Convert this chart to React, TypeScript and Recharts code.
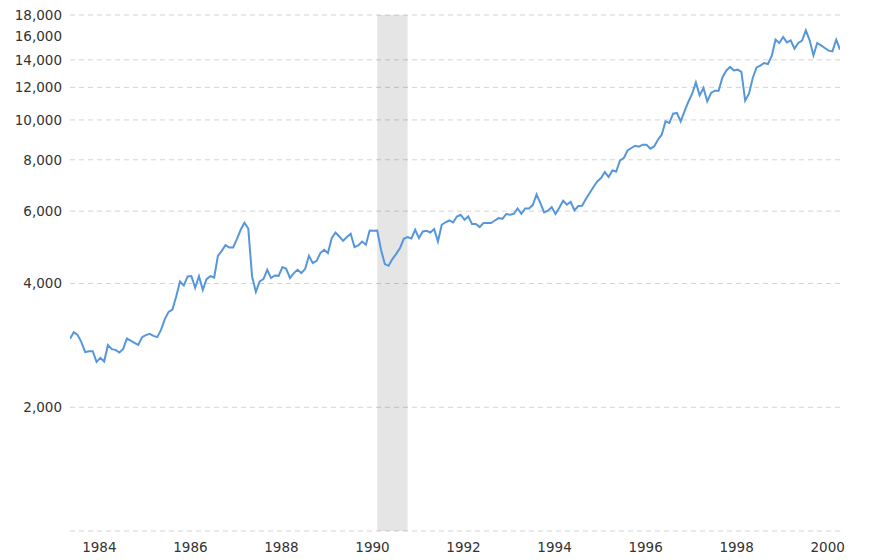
import { LineChart, Line, XAxis, YAxis, CartesianGrid, ReferenceArea } from 'recharts'

// monthly closes, first value is Oct 1983
const startYear = 1983.75
const values = [
  2934, 3046, 3000, 2880, 2723, 2738, 2738, 2579, 2637, 2583,
  2832, 2769, 2758, 2717, 2769, 2939, 2906, 2869, 2837, 2962,
  2995, 3017, 2983, 2962, 3085, 3276, 3413, 3457, 3719, 4045,
  3955, 4160, 4169, 3905, 4169, 3861, 4099, 4169, 4136, 4671,
  4804, 4960, 4894, 4894, 5130, 5405, 5621, 5444, 4160, 3818,
  4045, 4099, 4319, 4123, 4183, 4176, 4385, 4343, 4123, 4240,
  4319, 4240, 4343, 4671, 4484, 4542, 4743, 4831, 4743, 5159,
  5323, 5205, 5081, 5188, 5285, 4905, 4949, 5061, 4969, 5384,
  5374, 5384, 4831, 4459, 4417, 4586, 4724, 4877, 5139, 5188,
  5148, 5405, 5159, 5353, 5374, 5323, 5426, 5061, 5558, 5637,
  5694, 5630, 5823, 5879, 5716, 5823, 5580, 5580, 5487, 5612,
  5612, 5612, 5694, 5771, 5748, 5902, 5879, 5912, 6090, 5912,
  6090, 6090, 6207, 6587, 6277, 5955, 6012, 6138, 5902, 6114,
  6358, 6218, 6323, 6022, 6172, 6182, 6419, 6638, 6866, 7085,
  7221, 7468, 7262, 7535, 7493, 7970, 8078, 8429, 8544, 8655,
  8607, 8704, 8704, 8511, 8621, 8951, 9205, 9918, 9829, 10355,
  10396, 9918, 10489, 11057, 11564, 12341, 11473, 11959, 11095, 11630,
  11781, 11781, 12691, 13177, 13453, 13200, 13252, 13082, 11138, 11583,
  12648, 13423, 13551, 13757, 13681, 14309, 15678, 15391, 15917, 15443,
  15617, 14907, 15391, 15591, 16517, 15617, 14356, 15391, 15185, 14965,
  14740, 14682, 15678, 14823,
]

const yearTicks = [1984, 1986, 1988, 1990, 1992, 1994, 1996, 1998, 2000]
const valueTicks = [1000, 2000, 4000, 6000, 8000, 10000, 12000, 14000, 16000, 18000]

// recession: Jul 1990 - Mar 1991
const recessionStart = [1990.5]
const recessionEnd = [1991.1667]

const data = values.map((v, i) => ({ t: startYear + i / 12, v }))

const font = 'Verdana, "DejaVu Sans", sans-serif'

const YearTick = (props: any) => {
  const { x, y, payload } = props
  return (
    <text x={x + 18} y={y} dy={13} textAnchor="middle" fontSize={13.5} fontFamily={font} fill="#333">
      {payload.value}
    </text>
  )
}

export default function App() {
  return (
    <div style={{ width: 888, height: 560 }}>
      <style>{`body { margin: 0; }`}</style>
      <LineChart width={888} height={560} data={data} margin={{ top: 15, right: 48, bottom: 0, left: 0 }}>
        <CartesianGrid vertical={false} stroke="#d4d4d4" strokeDasharray="5 4" />
        {recessionStart.map((s, i) => (
          // translucent so the dashed grid still shows through, as in the original
          <ReferenceArea key={s} x1={s} x2={recessionEnd[i]} y1={1000} y2={18000} fill="#000" fillOpacity={0.1} stroke="none" ifOverflow="hidden" />
        ))}
        <XAxis
          dataKey="t"
          type="number"
          domain={[startYear, startYear + (values.length - 1) / 12]}
          ticks={yearTicks}
          tick={<YearTick />}
          axisLine={false}
          tickLine={false}
          height={29}
          allowDataOverflow
        />
        <YAxis
          dataKey="v"
          scale="log"
          domain={[1000, 18000]}
          ticks={valueTicks}
          tickFormatter={(v: number) => (v === 1000 ? '' : v.toLocaleString('en-US'))}
          tick={{ fontSize: 13.5, fontFamily: font, fill: '#333' }}
          axisLine={false}
          tickLine={false}
          width={70}
          allowDataOverflow
        />
        <Line type="linear" dataKey="v" stroke="#5597da" strokeWidth={2} dot={false} isAnimationActive={false} />
      </LineChart>
    </div>
  )
}
